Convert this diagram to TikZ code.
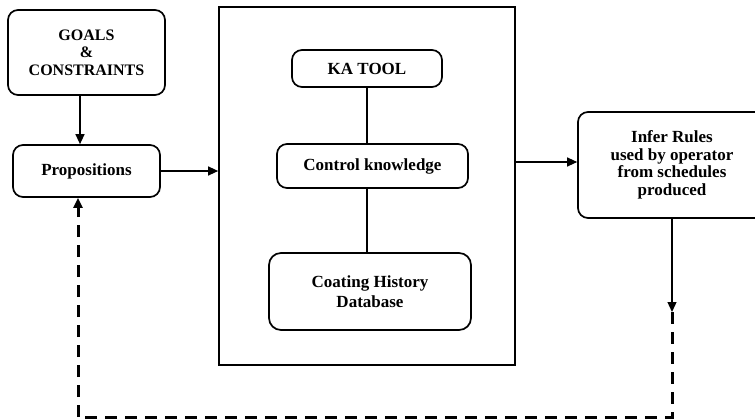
\documentclass[tikz,border=0pt]{standalone}
\usepackage{fontspec}
\setmainfont{Liberation Serif}
\usetikzlibrary{arrows.meta}

\tikzset{
  box/.style={draw, line width=1.7pt, rounded corners=10pt, inner sep=0pt,
    align=center, font=\bfseries\fontsize{17}{17.5}\selectfont},
  frame/.style={draw, line width=1.7pt, inner sep=0pt},
  arr/.style={line width=1.3pt, -{Triangle[length=10pt,width=9pt]}},
  link/.style={line width=1.3pt},
  feedback/.style={line width=3pt, dash pattern=on 12pt off 8pt},
  feedbackarr/.style={feedback, -{Triangle[length=10pt,width=9pt]}}
}

\begin{document}
\begin{tikzpicture}[x=1pt, y=-1pt]
  \useasboundingbox (0,0) rectangle (755,420);
  \clip (0,0) rectangle (755,420);

  % input side
  \node[box, font=\bfseries\fontsize{16}{17.5}\selectfont,
        minimum width=157pt, minimum height=85pt] (goals) at (86.5,52.5)
    {GOALS\\\&\\CONSTRAINTS};
  \node[box, minimum width=147pt, minimum height=52pt] (prop) at (86.5,171)
    {Propositions};

  % knowledge acquisition block
  \node[frame, minimum width=296pt, minimum height=358pt] (block) at (367,186) {};
  \node[box, minimum width=150pt, minimum height=37pt] (ka) at (367,68.5) {KA TOOL};
  \node[box, minimum width=191pt, minimum height=44pt] (ck) at (372.5,166) {Control knowledge};
  \node[box, rounded corners=12pt, font=\bfseries\fontsize{17}{20}\selectfont,
        minimum width=202pt, minimum height=77pt] (hist) at (370,291.5)
    {Coating History\\Database};

  % output side
  \node[box, minimum width=188pt, minimum height=106pt] (infer) at (672,165)
    {Infer Rules\\used by operator\\from schedules\\produced};

  % solid connectors
  \draw[arr] ([xshift=-6.5pt]goals.south) -- ([xshift=-6.5pt]prop.north);
  \draw[arr] (prop.east) -- (prop.east -| block.west);
  \draw[link] (367,0 |- ka.south) -- (367,0 |- ck.north);
  \draw[link] (367,0 |- ck.south) -- (367,0 |- hist.north);
  \draw[arr] (block.east |- 0,162) -- (infer.west |- 0,162);

  % feedback loop
  \coordinate (drop) at (672,312);
  \coordinate (turnR) at (672,417);
  \coordinate (turnL) at (78,417);
  \draw[arr] (infer.south) -- (drop);
  \draw[feedback] (drop) -- (turnR) -- (turnL);
  \draw[feedbackarr] (turnL) -- (78,0 |- prop.south);
\end{tikzpicture}
\end{document}
